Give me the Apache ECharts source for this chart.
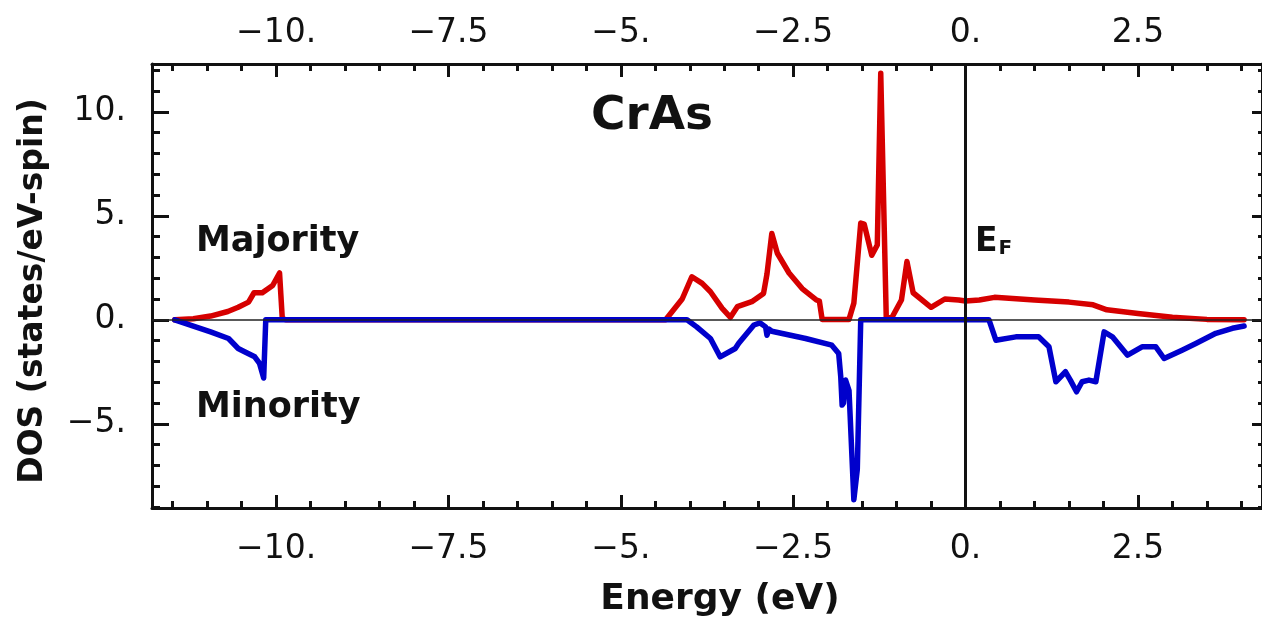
<!DOCTYPE html>
<html>
<head>
<meta charset="utf-8">
<script src="https://cdn.jsdelivr.net/npm/echarts@6/dist/echarts.min.js"></script>
<style>
  html, body { margin: 0; padding: 0; background: #fff; }
  #chart { width: 1262px; height: 620px; }
</style>
</head>
<body>
<div id="chart"></div>
<script>
// Spin-resolved density of states of CrAs (energy in eV, DOS in states/eV-spin)
const majorityEnergy = [
  -11.47, -11.2, -10.95, -10.7, -10.55, -10.4, -10.32, -10.2, -10.05, -9.95, -9.91, -9.85,
  -4.35, -4.11, -3.97, -3.82, -3.70, -3.53, -3.41, -3.31, -3.10, -2.93, -2.88, -2.81,
  -2.73, -2.56, -2.37, -2.16, -2.12, -2.08, -1.69, -1.62, -1.52, -1.47, -1.36, -1.28,
  -1.23, -1.15, -1.07, -0.93, -0.85, -0.76, -0.50, -0.30, -0.10, 0.0, 0.2, 0.42,
  1.0, 1.5, 1.85, 2.05, 2.5, 3.0, 3.5, 4.04
];
const majorityDOS = [
  0, 0.05, 0.18, 0.4, 0.6, 0.85, 1.3, 1.3, 1.65, 2.25, 0.05, 0,
  0, 1.0, 2.07, 1.75, 1.35, 0.55, 0.12, 0.63, 0.87, 1.27, 2.2, 4.15,
  3.2, 2.25, 1.5, 0.95, 0.9, 0.02, 0.02, 0.8, 4.65, 4.6, 3.1, 3.6,
  11.85, 0.1, 0.1, 0.95, 2.8, 1.3, 0.6, 1.0, 0.95, 0.9, 0.95, 1.08,
  0.95, 0.85, 0.72, 0.48, 0.3, 0.12, 0.02, 0
];
const minorityEnergy = [
  -11.47, -11.2, -10.95, -10.69, -10.55, -10.45, -10.31, -10.24, -10.18, -10.15,
  -4.04, -3.90, -3.70, -3.56, -3.34, -3.29, -3.07, -2.98, -2.90, -2.88, -2.85, -2.81,
  -2.32, -1.94, -1.84, -1.81, -1.79, -1.77, -1.74, -1.69, -1.62, -1.57, -1.52,
  0.34, 0.44, 0.73, 1.06, 1.21, 1.31, 1.45, 1.52, 1.61, 1.69, 1.79, 1.89,
  2.01, 2.13, 2.35, 2.56, 2.76, 2.88, 3.14, 3.34, 3.63, 3.87, 4.04
];
const minorityDOS = [
  0, -0.3, -0.58, -0.9, -1.38, -1.55, -1.78, -2.1, -2.8, 0,
  0, -0.34, -0.9, -1.78, -1.38, -1.13, -0.25, -0.15, -0.34, -0.74, -0.45, -0.55,
  -0.9, -1.22, -1.62, -2.74, -4.1, -4.0, -2.9, -3.4, -8.65, -7.2, 0,
  0, -0.98, -0.82, -0.82, -1.3, -2.98, -2.5, -2.9, -3.46, -2.98, -2.9, -2.98,
  -0.58, -0.82, -1.7, -1.3, -1.3, -1.86, -1.46, -1.14, -0.65, -0.41, -0.3
];

// Axis ticks and their labels
const xMajorTicks = [-10, -7.5, -5, -2.5, 0, 2.5];
const xTickLabels = ['\u221210.', '\u22127.5', '\u22125.', '\u22122.5', '0.', '2.5'];
const xMinorTicks = [-11.5, -11, -10.5, -10, -9.5, -9, -8.5, -8, -7.5, -7, -6.5, -6, -5.5, -5,
  -4.5, -4, -3.5, -3, -2.5, -2, -1.5, -1, -0.5, 0, 0.5, 1, 1.5, 2, 2.5, 3, 3.5, 4];
const yMajorTicks = [-5, 0, 5, 10];
const yTickLabels = ['\u22125.', '0.', '5.', '10.'];
const yMinorTicks = [-9, -8, -7, -6, -5, -4, -3, -2, -1, 0, 1, 2, 3, 4, 5, 6, 7, 8, 9, 10, 11, 12];

const xRange = [-11.8, 4.3];
const yRange = [-9.05, 12.3];

const zip = (a, b) => a.map((v, i) => [v, b[i]]);
const FONT = 'DejaVu Sans';
const INK = '#111';

function labelFor(values, labels) {
  return v => {
    const i = values.findIndex(t => Math.abs(t - v) < 1e-6);
    return i >= 0 ? labels[i] : '';
  };
}

function xAxisDef(position, ticks, len, withLabels, withLine) {
  return {
    type: 'value', position, min: xRange[0], max: xRange[1],
    axisLine: { show: withLine, onZero: false, lineStyle: { color: INK, width: 3 } },
    axisTick: { show: true, inside: true, length: len, customValues: ticks,
      lineStyle: { color: INK, width: 3 } },
    axisLabel: withLabels ? {
      show: true, customValues: xMajorTicks, formatter: labelFor(xMajorTicks, xTickLabels),
      fontFamily: FONT, fontSize: 33, color: INK, margin: position === 'top' ? 14 : 25
    } : { show: false },
    splitLine: { show: false }
  };
}

function yAxisDef(position, ticks, len, withLabels, withLine) {
  return {
    type: 'value', position, min: yRange[0], max: yRange[1],
    axisLine: { show: withLine, onZero: false, lineStyle: { color: INK, width: 3 } },
    axisTick: { show: true, inside: true, length: len, customValues: ticks,
      lineStyle: { color: INK, width: 3 } },
    axisLabel: withLabels ? {
      show: true, customValues: yMajorTicks, formatter: labelFor(yMajorTicks, yTickLabels),
      fontFamily: FONT, fontSize: 33, color: INK, margin: 26
    } : { show: false },
    splitLine: { show: false }
  };
}

const chart = echarts.init(document.getElementById('chart'), null, { renderer: 'canvas' });

chart.setOption({
  animation: false,
  backgroundColor: '#fff',
  grid: { left: 152, top: 64, right: -1, bottom: 112, containLabel: false },
  xAxis: [
    xAxisDef('bottom', xMinorTicks, 7, true, true),
    xAxisDef('bottom', xMajorTicks, 13, false, false),
    xAxisDef('top', xMinorTicks, 7, true, true),
    xAxisDef('top', xMajorTicks, 13, false, false)
  ],
  yAxis: [
    yAxisDef('left', yMinorTicks, 8, true, true),
    yAxisDef('left', yMajorTicks, 17, false, false),
    yAxisDef('right', yMinorTicks, 4, false, true),
    yAxisDef('right', yMajorTicks, 10, false, false)
  ],
  series: [
    {
      name: 'reference lines', type: 'line', data: [], z: 1,
      markLine: {
        silent: true, symbol: 'none', label: { show: false },
        data: [
          { yAxis: 0, lineStyle: { color: '#222', width: 1.5, type: 'solid' } },
          { xAxis: 0, lineStyle: { color: INK, width: 3, type: 'solid' } }
        ]
      }
    },
    {
      name: 'Majority', type: 'line', data: zip(majorityEnergy, majorityDOS), z: 2,
      showSymbol: false, lineStyle: { color: '#d60000', width: 5.5, join: 'round', cap: 'round' }
    },
    {
      name: 'Minority', type: 'line', data: zip(minorityEnergy, minorityDOS), z: 3,
      showSymbol: false, lineStyle: { color: '#0000cc', width: 5.5, join: 'round', cap: 'round' }
    }
  ],
  graphic: [
    { type: 'text', x: 652, y: 117, style: { text: 'CrAs', font: `bold 47px "${FONT}"`,
      fill: INK, textAlign: 'center', textVerticalAlign: 'middle' } },
    { type: 'text', x: 196, y: 242, style: { text: 'Majority', font: `bold 35px "${FONT}"`,
      fill: INK, textAlign: 'left', textVerticalAlign: 'middle' } },
    { type: 'text', x: 196, y: 408, style: { text: 'Minority', font: `bold 35px "${FONT}"`,
      fill: INK, textAlign: 'left', textVerticalAlign: 'middle' } },
    { type: 'text', x: 975, y: 242, style: {
      text: '{e|E}{f|F}', fill: INK, textAlign: 'left', textVerticalAlign: 'middle',
      rich: {
        e: { fontFamily: FONT, fontWeight: 'bold', fontSize: 33, fill: INK },
        f: { fontFamily: FONT, fontWeight: 'bold', fontSize: 20, fill: INK, padding: [14, 0, 0, 1] }
      } } },
    { type: 'text', x: 720, y: 600, style: { text: 'Energy (eV)', font: `bold 36px "${FONT}"`,
      fill: INK, textAlign: 'center', textVerticalAlign: 'middle' } },
    { type: 'text', x: 33, y: 291, rotation: Math.PI / 2, style: { text: 'DOS (states/eV-spin)',
      font: `bold 33px "${FONT}"`, fill: INK, textAlign: 'center', textVerticalAlign: 'middle' } }
  ]
});
</script>
</body>
</html>
